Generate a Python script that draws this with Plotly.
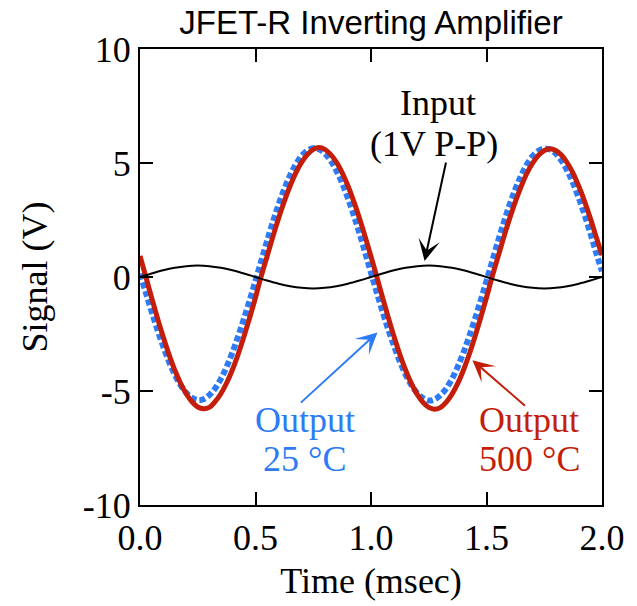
import plotly.graph_objects as go

# ---- data ----
t_input = [0.0, 0.05, 0.1, 0.15, 0.2, 0.25, 0.3, 0.35, 0.4, 0.45, 0.5, 0.55, 0.6, 0.65, 0.7,
           0.75, 0.8, 0.85, 0.9, 0.95, 1.0, 1.05, 1.1, 1.15, 1.2, 1.25, 1.3, 1.35, 1.4, 1.45,
           1.5, 1.55, 1.6, 1.65, 1.7, 1.75, 1.8, 1.85, 1.9, 1.95, 2.0]
v_input = [0.0, 0.155, 0.294, 0.405, 0.476, 0.5, 0.476, 0.405, 0.294, 0.155, 0.0, -0.155,
           -0.294, -0.405, -0.476, -0.5, -0.476, -0.405, -0.294, -0.155, 0.0, 0.155, 0.294,
           0.405, 0.476, 0.5, 0.476, 0.405, 0.294, 0.155, 0.0, -0.155, -0.294, -0.405, -0.476,
           -0.5, -0.476, -0.405, -0.294, -0.155, 0.0]

t_output = [0.0, 0.025, 0.05, 0.075, 0.1, 0.125, 0.15, 0.175, 0.2, 0.225, 0.25, 0.275, 0.3,
            0.325, 0.35, 0.375, 0.4, 0.425, 0.45, 0.475, 0.5, 0.525, 0.55, 0.575, 0.6, 0.625,
            0.65, 0.675, 0.7, 0.725, 0.75, 0.775, 0.8, 0.825, 0.85, 0.875, 0.9, 0.925, 0.95,
            0.975, 1.0, 1.025, 1.05, 1.075, 1.1, 1.125, 1.15, 1.175, 1.2, 1.225, 1.25, 1.275,
            1.3, 1.325, 1.35, 1.375, 1.4, 1.425, 1.45, 1.475, 1.5, 1.525, 1.55, 1.575, 1.6,
            1.625, 1.65, 1.675, 1.7, 1.725, 1.75, 1.775, 1.8, 1.825, 1.85, 1.875, 1.9, 1.925,
            1.95, 1.975, 2.0]

v_out_25C = [0.15, -0.68, -1.51, -2.30, -3.03, -3.70, -4.27, -4.73, -5.08, -5.30, -5.40, -5.36,
             -5.18, -4.89, -4.47, -3.94, -3.31, -2.60, -1.83, -1.01, -0.17, 0.71, 1.58, 2.41,
             3.18, 3.87, 4.46, 4.95, 5.32, 5.55, 5.65, 5.60, 5.42, 5.11, 4.67, 4.12, 3.46,
             2.72, 1.92, 1.06, 0.18, -0.68, -1.52, -2.31, -3.04, -3.71, -4.28, -4.74, -5.09,
             -5.31, -5.42, -5.37, -5.19, -4.90, -4.48, -3.95, -3.32, -2.61, -1.84, -1.02,
             -0.18, 0.70, 1.57, 2.40, 3.17, 3.86, 4.45, 4.94, 5.31, 5.54, 5.64, 5.59, 5.41,
             5.10, 4.66, 4.11, 3.45, 2.71, 1.91, 1.05, 0.25]

v_out_500C = [0.92, 0.02, -0.90, -1.78, -2.61, -3.38, -4.07, -4.65, -5.12, -5.47, -5.70, -5.78,
              -5.72, -5.47, -5.12, -4.65, -4.07, -3.38, -2.61, -1.78, -0.90, 0.05, 0.90, 1.76,
              2.58, 3.33, 4.00, 4.58, 5.04, 5.38, 5.60, 5.68, 5.60, 5.38, 5.04, 4.58, 4.00,
              3.33, 2.58, 1.76, 0.90, 0.01, -0.90, -1.78, -2.62, -3.40, -4.09, -4.68, -5.15,
              -5.50, -5.72, -5.80, -5.73, -5.50, -5.15, -4.68, -4.09, -3.40, -2.62, -1.78,
              -0.90, 0.03, 0.89, 1.75, 2.56, 3.31, 3.97, 4.55, 5.00, 5.34, 5.55, 5.63, 5.55,
              5.34, 5.00, 4.55, 3.97, 3.31, 2.56, 1.75, 0.95]

x_ticks = [0.0, 0.5, 1.0, 1.5, 2.0]
y_ticks = [-10, -5, 0, 5, 10]

BLUE = "#2E7BF6"
RED = "#C41E0A"
SERIF = "Liberation Serif, Times New Roman, serif"
SANS = "Liberation Sans, Arial, sans-serif"

fig = go.Figure()
fig.add_trace(go.Scatter(x=t_output, y=v_out_25C, mode="lines", name="Output 25 °C",
                         line=dict(color=BLUE, width=6, dash="6px,3px", shape="spline")))
fig.add_trace(go.Scatter(x=t_output, y=v_out_500C, mode="lines", name="Output 500 °C",
                         line=dict(color=RED, width=5, shape="spline")))
fig.add_trace(go.Scatter(x=t_input, y=v_input, mode="lines", name="Input",
                         line=dict(color="black", width=2, shape="spline")))

annos = []
# text labels
for txt, x, y, col in [("Input", 1.288, 7.65, "black"),
                       ("(1V P-P)", 1.271, 5.83, "black"),
                       ("Output", 0.714, -6.26, BLUE),
                       ("25 °C", 0.712, -8.0, BLUE),
                       ("Output", 1.684, -6.26, RED),
                       ("500 °C", 1.684, -8.0, RED)]:
    annos.append(dict(text=txt, x=x, y=y, xref="x", yref="y", showarrow=False,
                      xanchor="center", yanchor="middle",
                      font=dict(family=SERIF, size=36, color=col)))
# arrows
for hx, hy, tx, ty, col in [(1.232, 0.70, 1.326, 5.09, "black"),
                            (1.028, -2.43, 0.690, -5.57, BLUE),
                            (1.439, -3.65, 1.673, -5.70, RED)]:
    annos.append(dict(text="", x=hx, y=hy, ax=tx, ay=ty, xref="x", yref="y",
                      axref="x", ayref="y", showarrow=True, arrowhead=3,
                      arrowsize=1.8, arrowwidth=2, arrowcolor=col, standoff=0))

fig.update_layout(
    width=637, height=606,
    margin=dict(l=140, r=35, t=49, b=97),
    paper_bgcolor="white", plot_bgcolor="white",
    showlegend=False,
    title=dict(text="JFET-R Inverting Amplifier", x=0.5, xref="paper",
               y=1 - 22 / 606, yref="container", xanchor="center", yanchor="middle",
               font=dict(family=SANS, size=33, color="black")),
    annotations=annos,
)
fig.update_xaxes(range=[0, 2], tickvals=x_ticks, ticktext=[f"{v:.1f}" for v in x_ticks],
                 ticks="inside", ticklen=13, tickwidth=2, tickcolor="black",
                 showline=True, linewidth=2, linecolor="black", mirror="allticks",
                 showgrid=False, zeroline=False,
                 tickfont=dict(family=SERIF, size=36, color="black"),
                 title=dict(text="Time (msec)", font=dict(family=SERIF, size=36, color="black"),
                            standoff=11))
fig.update_yaxes(range=[-10, 10], tickvals=y_ticks, ticktext=[str(v) for v in y_ticks],
                 ticks="inside", ticklen=13, tickwidth=2, tickcolor="black",
                 showline=True, linewidth=2, linecolor="black", mirror="allticks",
                 showgrid=False, zeroline=False,
                 tickfont=dict(family=SERIF, size=36, color="black"),
                 title=dict(text="Signal (V)", font=dict(family=SERIF, size=36, color="black"),
                            standoff=24))

fig.write_html("out.html")
